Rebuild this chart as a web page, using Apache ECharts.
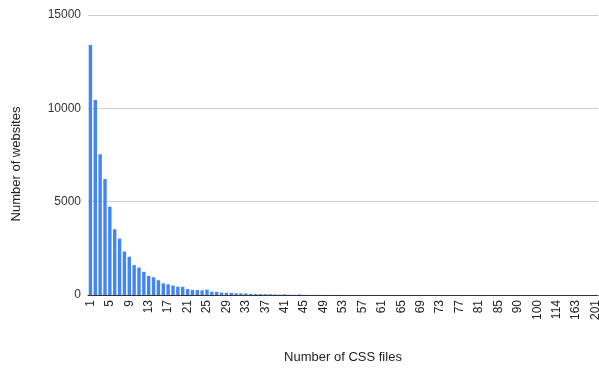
<!DOCTYPE html>
<html lang="en">
<head>
    <meta charset="UTF-8">
    <title>Number of CSS files</title>
    <script src="https://cdn.jsdelivr.net/npm/echarts@6/dist/echarts.min.js"></script>
    <style>
        html, body { margin: 0; height: 100%; background: #fff; }
        #main { width: 599px; height: 368px; }
    </style>
</head>
<body>
    <div id="main"></div>
    <script>
        // categories: 1..85, then the sparse tail
        var cssFiles = [];
        for (var i = 1; i <= 85; i++) cssFiles.push(String(i));
        var tailFiles = ['86', '87', '88', '90', '92', '94', '96', '100', '104', '106', '110', '114',
                         '120', '133', '150', '163', '170', '180', '194', '201'];
        cssFiles = cssFiles.concat(tailFiles);

        var websites = [
            13390, 10450, 7540, 6210, 4730, 3520, 3020, 2330, 2050, 1600,
            1470, 1240, 1020, 950, 790, 625, 575, 505, 446, 440,
            321, 268, 265, 250, 290, 180, 170, 130, 120, 115,
            90, 88, 85, 60, 52, 50, 45, 40, 30, 22,
            35, 15, 12, 30, 10, 8, 8, 7, 6, 6,
            5, 5, 5, 4, 4, 4, 3, 3, 3, 3,
            3, 2, 2, 2, 2, 2, 2, 2, 2, 2,
            2, 1, 1, 1, 1, 1, 1, 1, 1, 1,
            1, 1, 1, 1, 1,
            1, 1, 1, 1, 1, 1, 1, 1, 1, 1,
            1, 1, 1, 1, 1, 1, 1, 1, 1, 1
        ];

        var yTicks = [0, 5000, 10000, 15000];

        var font = 'Liberation Sans, Arial, sans-serif';
        var option = {
            animation: false,
            grid: { left: 88, right: 1, top: 15, bottom: 73, outerBoundsMode: 'none' },
            xAxis: {
                type: 'category',
                data: cssFiles,
                name: 'Number of CSS files',
                nameLocation: 'middle',
                nameGap: 56,
                nameTextStyle: { color: '#222', fontSize: 13, fontFamily: font },
                axisLine: { lineStyle: { color: '#333', width: 1 } },
                axisTick: { show: false },
                axisLabel: {
                    interval: 3,
                    rotate: 90,
                    margin: 5,
                    color: '#222',
                    fontSize: 12,
                    fontFamily: font
                }
            },
            yAxis: {
                type: 'value',
                min: yTicks[0],
                max: yTicks[yTicks.length - 1],
                interval: 5000,
                name: 'Number of websites',
                nameLocation: 'middle',
                nameGap: 65,
                nameTextStyle: { color: '#222', fontSize: 13, fontFamily: font, padding: [0, 18, 0, 0] },
                axisLine: { show: false },
                axisTick: { show: false },
                splitLine: { lineStyle: { color: '#ccc' } },
                axisLabel: {
                    color: '#333', fontSize: 12, fontFamily: font, margin: 7,
                    formatter: function (v) { return String(v); }
                }
            },
            series: [{
                type: 'bar',
                data: websites,
                barCategoryGap: '30%',
                itemStyle: { color: '#4285f4' }
            }]
        };

        var myChart = echarts.init(document.getElementById('main'));
        myChart.setOption(option);
    </script>
</body>
</html>
